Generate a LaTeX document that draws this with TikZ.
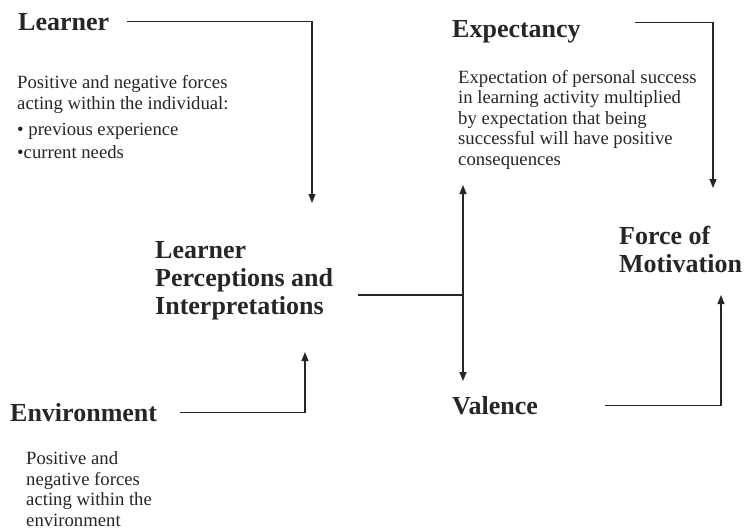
\documentclass[tikz,border=0pt]{standalone}
\usepackage{fontspec}
\setmainfont{Liberation Serif}
\usetikzlibrary{arrows.meta,positioning}

\begin{document}
\begin{tikzpicture}[x=1pt,y=-1pt,
    head/.style={font=\fontsize{26}{28}\selectfont\bfseries,anchor=base west,
                 inner sep=0pt,align=left,text=black!85},
    desc/.style={font=\fontsize{18.7}{20.5}\selectfont,anchor=base west,
                 inner sep=0pt,align=left,text=black!85},
    link/.style={line width=1.2pt,draw=black!85},
    arr/.style={link,-{Triangle[length=9pt,width=7pt]}}
  ]
  \useasboundingbox (0,0) rectangle (745,531);
  % multi-line nodes sit on the baseline of their last line
  \node[head] (learner) at (18,30)  {Learner};
  \node[desc] (learnerTxt) at (17,158) {Positive and negative forces\\acting within the individual:\\[6pt]%
    \textbullet\ previous experience\\[2pt]\textbullet current needs};
  \node[head] (expect) at (452,37) {Expectancy};
  \node[desc] (expectTxt) at (458,165) {Expectation of personal success\\in learning activity multiplied\\%
    by expectation that being\\successful will have positive\\consequences};
  \node[head] (percep) at (155,314) {Learner\\Perceptions and\\Interpretations};
  \node[head] (force) at (619,272) {Force of\\Motivation};
  \node[head] (valence) at (452,414) {Valence};
  \node[head] (environ) at (10,421) {Environment};
  \node[desc] (environTxt) at (26,526) {Positive and\\negative forces\\acting within the\\environment};
  % arrow ends
  \coordinate (lrnTip) at (312,203);
  \coordinate (expTip) at (713,188);
  \coordinate (junction) at (463,295);
  \coordinate (upTip) at (463,185);
  \coordinate (downTip) at (463,381);
  \coordinate (forceTip) at (721,295);
  \coordinate (envTip) at (305,352);
  \draw[arr] ([xshift=18pt]learner.east) -| (lrnTip);
  \draw[arr] ([xshift=54pt,yshift=-3pt]expect.north east) -| (expTip);
  \draw[link,shorten >=25pt] (junction) -- (junction -| percep.east);
  \draw[arr] (junction) -- (upTip);
  \draw[arr] (junction) -- (downTip);
  \draw[arr] ([xshift=67pt]valence.east) -| (forceTip);
  \draw[arr] ([xshift=23pt]environ.east) -| (envTip);
\end{tikzpicture}
\end{document}
